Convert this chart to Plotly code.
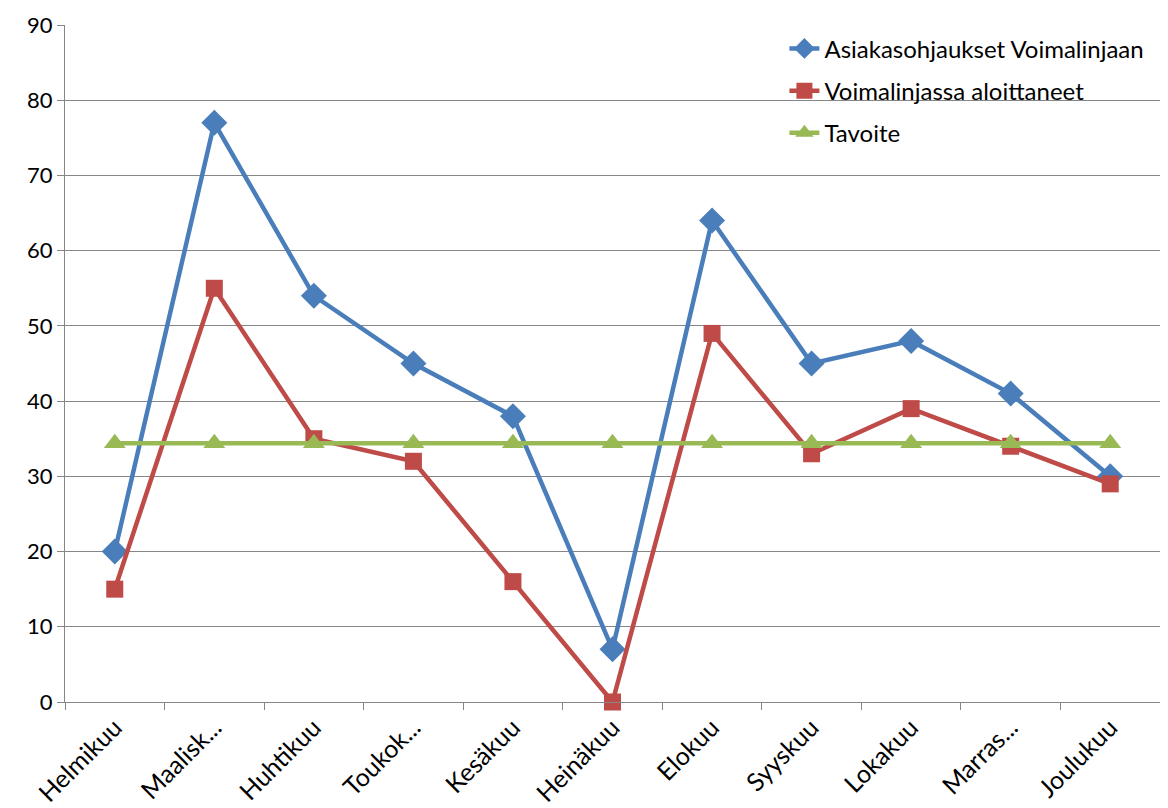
import plotly.graph_objects as go

months = ["Helmikuu", "Maalisk...", "Huhtikuu", "Toukok...", "Kesäkuu", "Heinäkuu",
          "Elokuu", "Syyskuu", "Lokakuu", "Marras...", "Joulukuu"]
asiakasohjaukset = [20, 77, 54, 45, 38, 7, 64, 45, 48, 41, 30]
aloittaneet = [15, 55, 35, 32, 16, 0, 49, 33, 39, 34, 29]
tavoite = [34.4] * len(months)

series = [
    ("Asiakasohjaukset Voimalinjaan", asiakasohjaukset, "#4A7EBB", "diamond", 20),
    ("Voimalinjassa aloittaneet", aloittaneet, "#BE4B48", "square", 17),
    ("Tavoite", tavoite, "#98B954", "triangle-up", 19),
]

fig = go.Figure()
for i, (name, vals, color, sym, size) in enumerate(series):
    fig.add_trace(go.Scatter(
        x=months, y=vals, name=name, mode="lines+markers",
        line=dict(color=color, width=4.5),
        marker=dict(symbol=sym, size=size, color=color),
        cliponaxis=False, legendgroup=f"g{i}",
    ))

font = "Lato, 'Open Sans', sans-serif"
fig.update_layout(
    width=1168, height=808,
    margin=dict(l=57, r=16, t=17, b=114),
    plot_bgcolor="white", paper_bgcolor="white",
    font=dict(family=font, size=22, color="#000000"),
    showlegend=True,
    legend=dict(x=0.657, y=0.998, xanchor="left", yanchor="top",
                bgcolor="rgba(0,0,0,0)", font=dict(size=24),
                tracegroupgap=8, traceorder="grouped"),
    xaxis=dict(
        type="category", tickangle=-45, tickson="boundaries",
        ticks="outside", ticklen=7, tickcolor="#868686",
        showline=True, linecolor="#868686", linewidth=1,
        showgrid=False, range=[-0.5, 10.5], tickfont=dict(size=25),
        automargin=False,
    ),
    yaxis=dict(
        range=[0, 90], dtick=10, ticks="outside", ticklen=7, tickcolor="#868686",
        showline=True, linecolor="#868686", linewidth=1,
        showgrid=True, gridcolor="#868686", gridwidth=1,
        zeroline=False, tickfont=dict(size=22), automargin=False,
    ),
)
fig.write_html("out.html")
